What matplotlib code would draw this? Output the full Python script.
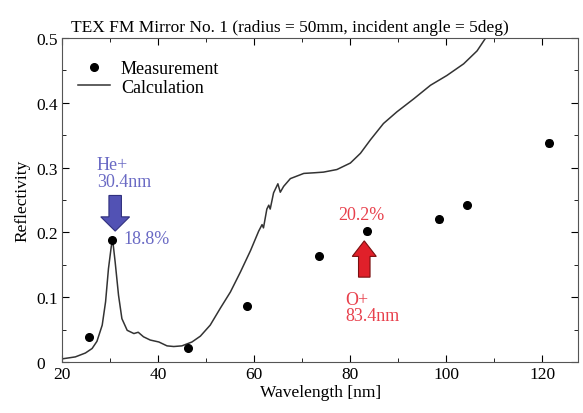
import matplotlib
matplotlib.use("Agg")
import matplotlib.pyplot as plt
from matplotlib.ticker import MultipleLocator
from matplotlib.patches import FancyArrow
from matplotlib.lines import Line2D
from matplotlib.transforms import ScaledTranslation

plt.rcParams['font.family'] = ['Liberation Serif', 'DejaVu Serif']
plt.rcParams['font.size'] = 12.5

# measured points
meas_wl = [25.6, 30.4, 46.2, 58.4, 73.4, 83.4, 98.4, 104.4, 121.3]
meas_r = [0.038, 0.188, 0.022, 0.086, 0.163, 0.202, 0.220, 0.242, 0.338]
meas_err = [0.002, 0.003, 0.002, 0.002, 0.002, 0.004, 0.004, 0.002, 0.004]

# calculated curve
calc_wl = [20.0, 22.7, 24.8, 26.2, 27.2, 28.3, 29.0, 29.6, 30.2, 30.5, 31.0,
           31.7, 32.4, 33.5, 34.9, 35.8, 36.9, 38.3, 40.1, 41.8, 43.2, 44.9,
           47.0, 48.75, 50.8, 52.9, 55.0, 57.1, 59.2, 60.9, 61.6, 61.9, 62.6,
           63.0, 63.3, 64.0, 64.9, 65.4, 66.1, 67.5, 70.3, 72.5, 74.4, 77.2,
           80.0, 82.1, 84.2, 86.9, 89.7, 93.2, 96.7, 100.1, 103.6, 106.4, 108.2]
calc_r = [0.005, 0.008, 0.014, 0.021, 0.032, 0.057, 0.093, 0.144, 0.179, 0.187,
          0.154, 0.103, 0.067, 0.049, 0.044, 0.046, 0.039, 0.034, 0.031, 0.025,
          0.024, 0.025, 0.031, 0.040, 0.057, 0.083, 0.108, 0.139, 0.172, 0.202,
          0.212, 0.207, 0.236, 0.242, 0.236, 0.261, 0.275, 0.262, 0.271, 0.283,
          0.291, 0.292, 0.293, 0.297, 0.307, 0.322, 0.343, 0.368, 0.386, 0.406,
          0.427, 0.442, 0.460, 0.480, 0.500]

blue_txt = '#6a6ac4'
red_txt = '#e8404c'

fig = plt.figure(figsize=(5.83, 4.14), dpi=100)
ax = fig.add_axes([0.107, 0.123, 0.885, 0.783])

ax.plot(calc_wl, calc_r, color='#333333', lw=1.1)
ax.errorbar(meas_wl, meas_r, yerr=meas_err, fmt='o', color='black', ms=5.5,
            capsize=2.5, elinewidth=1)

# ion line markers
ax.add_patch(FancyArrow(31.0, 0.257, 0, -0.055, width=2.6, head_width=6.0,
                        head_length=0.022, length_includes_head=True,
                        fc='#5252b4', ec='#30307e', lw=0.8, zorder=5))
ax.add_patch(FancyArrow(82.9, 0.131, 0, 0.056, width=2.4, head_width=5.0,
                        head_length=0.024, length_includes_head=True,
                        fc='#e0202a', ec='#7a1010', lw=0.8, zorder=5))
ax.text(27.2, 0.266, 'He+\n30.4nm', color=blue_txt, va='bottom', ha='left',
        linespacing=0.95, fontsize=13)
ax.text(32.8, 0.190, '18.8%', color=blue_txt, va='center', ha='left', fontsize=13)
ax.text(77.4, 0.228, '20.2%', color=red_txt, va='center', ha='left', fontsize=13)
ax.text(78.9, 0.110, 'O+\n83.4nm', color=red_txt, va='top', ha='left',
        linespacing=0.95, fontsize=13)

ax.set_xlim(20, 127.5)
ax.set_ylim(0, 0.5)
ax.xaxis.set_major_locator(MultipleLocator(20))
ax.xaxis.set_minor_locator(MultipleLocator(10))
ax.yaxis.set_minor_locator(MultipleLocator(0.05))
ax.set_yticks([0, 0.1, 0.2, 0.3, 0.4, 0.5])
ax.set_yticklabels(['0', '0.1', '0.2', '0.3', '0.4', '0.5'])
ax.tick_params(which='both', direction='in', top=True, right=True)
ax.tick_params(which='major', length=5)
ax.tick_params(which='minor', length=3)
ax.tick_params(axis='x', pad=3)
# the zero label sits further left in the original
zero_lbl = ax.get_yticklabels()[0]
zero_lbl.set_transform(zero_lbl.get_transform() +
                       ScaledTranslation(-9 / 72, 0, fig.dpi_scale_trans))
for s in ax.spines.values():
    s.set_color('#555555')

ax.set_xlabel('Wavelength [nm]', labelpad=1)
ax.set_ylabel('Reflectivity', labelpad=4)
ax.set_title('TEX FM Mirror No. 1 (radius = 50mm, incident angle = 5deg)',
             fontsize=12.5, pad=5, x=0.44)

handles = [Line2D([], [], marker='o', ls='none', color='black', ms=5.5),
           Line2D([], [], color='#333333', lw=1.1)]
ax.legend(handles, ['Measurement', 'Calculation'], loc='upper left',
          bbox_to_anchor=(0.012, 0.96), frameon=False, borderpad=0,
          handlelength=1.8, handletextpad=0.6, labelspacing=0.1, fontsize=13)

fig.savefig('out.png', dpi=100)
